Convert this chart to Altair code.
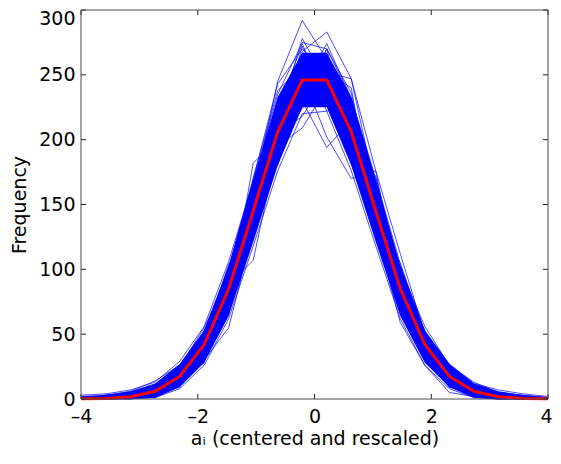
import altair as alt
import pandas as pd

# bin centres of the histograms
X = [-3.99, -3.57, -3.15, -2.73, -2.31, -1.89, -1.47, -1.05, -0.63, -0.21,
     0.21, 0.63, 1.05, 1.47, 1.89, 2.31, 2.73, 3.15, 3.57, 3.99]

# expected histogram (red)
RED = [0.1, 0.4, 1.8, 6, 17.4, 42, 85, 145, 206, 246,
       246, 206, 145, 85, 42, 17.4, 6, 1.8, 0.4, 0.1]

# dense core of the sampled histograms
CORE_LO = [0, 0, 0, 1, 9, 28, 64, 121, 180, 225, 225, 180, 121, 64, 28, 9, 1, 0, 0, 0]
CORE_HI = [1.5, 3, 6, 12, 27, 53, 103, 169, 233, 267, 267, 233, 169, 103, 53, 27, 12, 6, 3, 1.5]

# individual sampled histograms (blue)
RUNS = [
    [1, 0, 3, 5, 20, 46, 90, 158, 245, 292, 262, 214, 150, 86, 38, 15, 4, 2, 0, 0],
    [0, 2, 1, 7, 15, 38, 78, 140, 222, 268, 283, 247, 160, 90, 44, 19, 7, 1, 1, 0],
    [0, 1, 4, 9, 22, 52, 101, 170, 243, 270, 250, 205, 140, 80, 36, 14, 6, 2, 0, 0],
    [2, 1, 2, 4, 14, 35, 74, 182, 200, 240, 238, 210, 148, 78, 40, 16, 5, 3, 1, 0],
    [0, 1, 3, 6, 18, 44, 88, 107, 195, 209, 240, 200, 141, 82, 43, 18, 6, 1, 0, 0],
    [1, 0, 2, 5, 16, 40, 82, 150, 210, 230, 194, 215, 150, 88, 42, 20, 4, 2, 1, 0],
    [0, 1, 1, 6, 17, 43, 85, 143, 200, 250, 202, 170, 176, 80, 38, 15, 6, 1, 0, 0],
    [1, 2, 3, 7, 19, 45, 80, 145, 212, 256, 252, 247, 176, 112, 50, 22, 8, 3, 1, 0],
    [0, 0, 1, 4, 12, 30, 55, 130, 190, 235, 228, 190, 130, 59, 26, 5, 2, 0, 0, 0],
    [3, 4, 7, 13, 29, 56, 106, 168, 235, 275, 270, 232, 170, 104, 52, 27, 12, 7, 4, 2],
    [0, 0, 0, 1, 8, 26, 62, 118, 176, 220, 222, 176, 118, 62, 26, 8, 1, 0, 0, 0],
    [2, 3, 6, 14, 26, 50, 100, 160, 220, 262, 258, 226, 160, 100, 56, 26, 13, 5, 3, 1],
    [0, 1, 2, 3, 10, 30, 70, 125, 185, 226, 230, 182, 125, 66, 30, 10, 2, 0, 0, 0],
    [1, 3, 5, 10, 24, 48, 95, 156, 229, 258, 266, 222, 158, 96, 48, 23, 10, 4, 2, 1],
    [1, 1, 3, 8, 21, 40, 90, 150, 216, 260, 244, 210, 155, 92, 47, 21, 8, 2, 1, 0],
    [0, 2, 4, 9, 12, 37, 76, 138, 198, 244, 255, 198, 134, 76, 35, 12, 3, 1, 0, 0],
    [1, 0, 2, 3, 14, 33, 70, 136, 195, 238, 232, 195, 138, 70, 33, 14, 3, 1, 0, 0],
    [0, 1, 5, 11, 25, 55, 96, 152, 218, 252, 248, 218, 156, 98, 49, 25, 10, 5, 2, 0],
    [0, 0, 2, 6, 16, 42, 84, 147, 204, 242, 236, 204, 146, 84, 40, 17, 6, 2, 1, 0],
    [1, 2, 2, 5, 19, 39, 86, 144, 209, 255, 241, 209, 143, 87, 39, 16, 5, 2, 0, 0],
    [0, 1, 2, 4, 13, 35, 75, 138, 214, 266, 260, 228, 168, 96, 44, 13, 5, 1, 0, 0],
    [2, 0, 1, 9, 22, 49, 99, 163, 226, 248, 262, 214, 138, 78, 33, 20, 9, 3, 2, 1],
    [0, 2, 3, 7, 20, 38, 92, 152, 190, 228, 270, 236, 150, 93, 50, 24, 5, 0, 1, 0],
    [1, 1, 4, 5, 11, 47, 88, 128, 203, 272, 236, 195, 162, 100, 37, 11, 7, 4, 0, 0],
    [0, 0, 1, 8, 24, 31, 79, 160, 230, 262, 248, 190, 130, 72, 46, 19, 3, 2, 1, 1],
    [0, 3, 2, 3, 15, 53, 94, 146, 186, 236, 262, 224, 165, 88, 36, 15, 10, 2, 0, 0],
    [1, 0, 0, 6, 18, 40, 68, 156, 222, 274, 230, 208, 136, 105, 45, 22, 4, 1, 2, 0],
    [0, 1, 3, 10, 23, 45, 104, 133, 208, 240, 274, 232, 152, 70, 30, 16, 8, 3, 0, 0],
    [1, 2, 1, 2, 10, 36, 82, 170, 238, 256, 228, 186, 172, 94, 53, 13, 2, 0, 1, 0],
    [0, 0, 2, 7, 21, 50, 73, 141, 196, 224, 252, 240, 128, 82, 40, 24, 11, 4, 1, 0],
    [2, 1, 3, 4, 16, 28, 88, 150, 214, 278, 244, 220, 160, 66, 47, 18, 6, 2, 0, 1],
    [0, 1, 0, 8, 13, 41, 97, 165, 180, 250, 266, 200, 140, 102, 34, 9, 5, 1, 1, 0],
    [1, 2, 4, 5, 19, 33, 66, 132, 226, 232, 270, 196, 166, 90, 51, 21, 3, 3, 0, 0],
    [0, 0, 1, 3, 20, 44, 91, 147, 216, 266, 222, 228, 144, 76, 39, 26, 9, 1, 0, 0],
    [0, 1, 2, 6, 9, 51, 84, 162, 204, 218, 248, 212, 154, 98, 43, 14, 6, 2, 1, 0],
]

X_TICKS = [-4, -2, 0, 2, 4]
Y_TICKS = [0, 50, 100, 150, 200, 250, 300]

W, H = 467, 389
FONT = "DejaVu Sans"

band_df = pd.DataFrame({"x": X, "lo": CORE_LO, "hi": CORE_HI})
red_df = pd.DataFrame({"x": X, "count": RED})
rows = []
for i, run in enumerate(RUNS):
    for xv, v in zip(X, run):
        rows.append({"x": xv, "count": v, "run": i})
runs_df = pd.DataFrame(rows)
xt_df = pd.DataFrame({"v": X_TICKS})
yt_df = pd.DataFrame({"v": Y_TICKS})
one = pd.DataFrame({"k": [0]})

xscale = alt.Scale(domain=[-4, 4], nice=False, zero=False)
yscale = alt.Scale(domain=[0, 300], nice=False)

xaxis = alt.Axis(
    values=X_TICKS, grid=False, ticks=False, tickSize=0, domain=False,
    labelFlush=False,
    labelFont=FONT, labelFontSize=19, labelColor="black", labelPadding=8,
    labelOffset={"condition": {"test": "datum.value == 4", "value": -2}, "value": 0},
    labelExpr="datum.value < 0 ? '\u2013' + format(-datum.value, 'd') : format(datum.value, 'd')",
    title="a\u1d62 (centered and rescaled)", titleFont=FONT, titleFontSize=19,
    titleFontWeight="normal", titleColor="black", titlePadding=3,
)
yaxis = alt.Axis(
    values=Y_TICKS, grid=False, ticks=False, tickSize=0, domain=False,
    labelFlush=False,
    labelFont=FONT, labelFontSize=19, labelColor="black", labelPadding=6,
    labelOffset={"condition": {"test": "datum.value == 300", "value": 8}, "value": 0},
    title="Frequency", titleFont=FONT, titleFontSize=19,
    titleFontWeight="normal", titleColor="black", titlePadding=9,
)

band = alt.Chart(band_df).mark_area(color="#0000ff", opacity=1).encode(
    x=alt.X("x:Q", scale=xscale, axis=xaxis),
    y=alt.Y("lo:Q", scale=yscale, axis=yaxis),
    y2="hi:Q",
)
lines = alt.Chart(runs_df).mark_line(color="#0000ff", strokeWidth=0.7).encode(
    x=alt.X("x:Q", scale=xscale),
    y=alt.Y("count:Q", scale=yscale),
    detail="run:N",
)
red = alt.Chart(red_df).mark_line(color="#ff0000", strokeWidth=3).encode(
    x=alt.X("x:Q", scale=xscale),
    y=alt.Y("count:Q", scale=yscale),
)

TC = "#222222"
xt_bot = alt.Chart(xt_df).mark_rule(color=TC).encode(
    x=alt.X("v:Q", scale=xscale), y=alt.value(H), y2=alt.value(H - 5))
xt_top = alt.Chart(xt_df).mark_rule(color=TC).encode(
    x=alt.X("v:Q", scale=xscale), y=alt.value(0), y2=alt.value(5))
yt_left = alt.Chart(yt_df).mark_rule(color=TC).encode(
    y=alt.Y("v:Q", scale=yscale), x=alt.value(0), x2=alt.value(5))
yt_right = alt.Chart(yt_df).mark_rule(color=TC).encode(
    y=alt.Y("v:Q", scale=yscale), x=alt.value(W), x2=alt.value(W - 5))

FC = "#4d4d4d"
f_left = alt.Chart(one).mark_rule(color=FC).encode(x=alt.value(0), y=alt.value(0), y2=alt.value(H))
f_right = alt.Chart(one).mark_rule(color=FC).encode(x=alt.value(W), y=alt.value(0), y2=alt.value(H))
f_top = alt.Chart(one).mark_rule(color=FC).encode(y=alt.value(0), x=alt.value(0), x2=alt.value(W))
f_bot = alt.Chart(one).mark_rule(color=FC).encode(y=alt.value(H), x=alt.value(0), x2=alt.value(W))

chart = alt.layer(
    band, lines, red, xt_bot, xt_top, yt_left, yt_right, f_left, f_right, f_top, f_bot
).properties(
    width=W, height=H,
    autosize=alt.AutoSizeParams(type="none"),
    padding={"left": 73, "top": 2, "right": 5, "bottom": 50},
).configure_view(stroke=None)

chart.save("out.html", embed_options={"renderer": "svg", "actions": False})
